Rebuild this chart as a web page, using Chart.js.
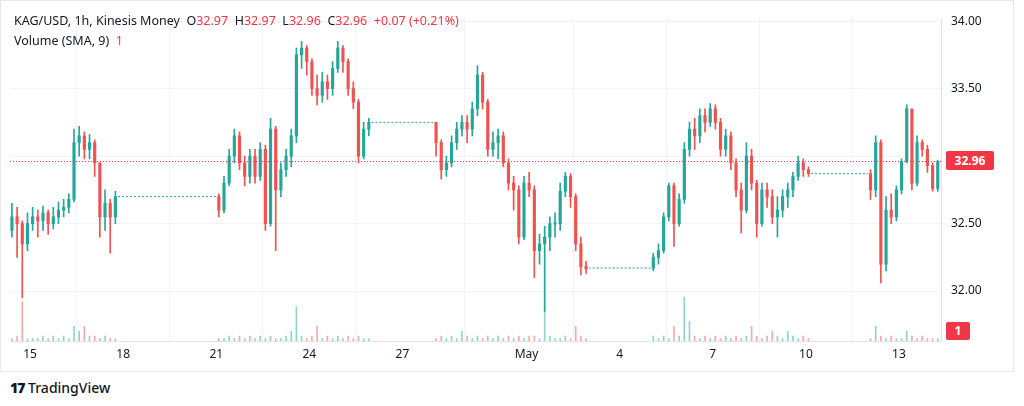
<!DOCTYPE html>
<html><head><meta charset="utf-8">
<script src="https://cdn.jsdelivr.net/npm/chart.js@4.4.1/dist/chart.umd.min.js"></script>
<style>
body{margin:0;background:#fff;font-family:"Noto Sans",Roboto,sans-serif;}
#wrap{position:absolute;left:0;top:0;width:1014px;height:372px;border:1px solid #e6e8ee;box-sizing:border-box}
canvas{position:absolute;left:0;top:0}
.lg{position:absolute;left:14px;font-size:12.5px;color:#131722;white-space:nowrap}
.r{color:#f23645}
.box{position:absolute;background:#f23645;color:#fff;font-size:12px;font-weight:bold;text-align:center;border-radius:2px}
#tv{position:absolute;left:10px;top:378px;font-size:14px;color:#131722;font-weight:500}
</style></head><body>
<div id="wrap"><canvas id="c" width="1012" height="370"></canvas></div>
<div class="lg" style="top:12px">KAG/USD, 1h, Kinesis Money &nbsp;O<span class="r">32.97</span> &nbsp;H<span class="r">32.97</span> &nbsp;L<span class="r">32.96</span> &nbsp;C<span class="r">32.96</span> &nbsp;<span class="r">+0.07 (+0.21%)</span></div>
<div class="lg" style="top:32px">Volume (SMA, 9) &nbsp;<span class="r">1</span></div>
<div class="box" style="left:946px;top:151px;width:48px;height:19px;line-height:19px">32.96</div>
<div class="box" style="left:946px;top:322px;width:24px;height:18px;line-height:18px">1</div>
<div id="tv"><span style="font-weight:900;letter-spacing:-1px">17</span> TradingView</div>
<script>
// segment start hours (hours since Apr 14 00:00), 4h candles
const segStart=[8,168,336,504,672];
const closes=[
[32.55,32.50,32.35,32.50,32.55,32.52,32.58,32.50,32.55,32.60,32.62,32.68,33.10,33.15,33.05,33.10,32.95,32.55,32.65,32.55,32.70],
[32.60,32.80,33.00,33.15,32.95,32.85,33.00,32.85,33.05,32.50,33.20,32.75,32.90,33.00,33.15,33.75,33.80,33.70,33.50,33.45,33.55,33.50,33.65,33.80,33.70,33.50,33.40,33.00,33.20,33.25],
[33.10,32.90,32.95,33.10,33.20,33.25,33.20,33.35,33.60,33.40,33.05,33.10,33.15,32.95,32.80,32.75,32.40,32.80,32.75,32.30,32.35,32.40,32.50,32.50,32.74,32.85,32.70,32.35,32.18,32.17],
[32.25,32.30,32.55,32.78,32.50,32.68,33.05,33.20,33.15,33.30,33.25,33.35,33.25,33.05,33.15,32.95,32.75,32.60,33.00,32.80,32.50,32.75,32.70,32.55,32.60,32.70,32.75,32.85,32.95,32.90,32.87],
[32.75,33.10,32.20,32.60,32.55,32.75,32.96,33.35,32.80,33.10,33.05,32.93,32.76,32.96]];
const highs=[
[32.65,32.62,32.52,32.58,32.62,32.60,32.63,32.60,32.62,32.66,32.68,32.72,33.20,33.22,33.18,33.16,33.12,32.95,32.75,32.68,32.74],
[32.72,32.85,33.05,33.20,33.18,33.00,33.05,33.05,33.10,33.08,33.28,33.22,32.95,33.05,33.20,33.80,33.85,33.82,33.72,33.60,33.62,33.60,33.70,33.85,33.82,33.72,33.55,33.42,33.25,33.28],
[33.25,33.12,33.00,33.15,33.25,33.30,33.30,33.40,33.67,33.62,33.42,33.18,33.20,33.18,32.98,32.85,32.78,32.85,32.88,32.78,32.42,32.48,32.55,32.58,32.80,32.88,32.87,32.72,32.40,32.22],
[32.28,32.35,32.58,32.80,32.80,32.72,33.10,33.25,33.28,33.35,33.35,33.39,33.38,33.28,33.20,33.18,32.98,32.80,33.10,33.05,32.82,32.80,32.80,32.75,32.70,32.75,32.80,32.88,33.00,32.98,32.92],
[32.90,33.15,33.12,32.70,32.72,32.78,32.98,33.38,33.30,33.15,33.12,33.08,32.95,32.97]];
const lows=[
[32.40,32.25,31.95,32.30,32.45,32.40,32.45,32.42,32.46,32.50,32.55,32.58,32.66,33.00,32.98,32.98,32.85,32.40,32.45,32.28,32.50],
[32.55,32.58,32.78,32.95,32.90,32.78,32.80,32.80,32.82,32.45,32.48,32.30,32.70,32.85,32.92,33.10,33.65,33.60,33.45,33.38,33.40,33.42,33.45,33.62,33.62,33.45,33.35,32.95,32.98,33.15],
[33.00,32.83,32.85,32.92,33.05,33.15,33.10,33.15,33.30,33.35,33.00,33.00,32.98,32.92,32.75,32.60,32.35,32.38,32.70,32.10,32.20,31.85,32.30,32.40,32.45,32.70,32.62,32.30,32.12,32.13],
[32.15,32.20,32.28,32.52,32.33,32.48,32.65,33.00,33.05,33.10,33.18,33.22,33.20,33.00,33.00,32.90,32.70,32.43,32.58,32.75,32.40,32.48,32.62,32.50,32.40,32.55,32.62,32.70,32.82,32.85,32.85],
[32.68,32.70,32.06,32.15,32.50,32.52,32.72,32.95,32.75,32.78,33.00,32.88,32.74,32.74]];
const volumes=[
[0.5,1,8,0.5,0.5,0.5,1,0.5,1,0.5,1,0.5,3,2,3,1,1,0.5,1,0.5,0.5],
[0.5,0.5,1,0.5,1,0.5,1,0.5,1,0.5,1,0.5,0.5,1,2,7,1,0.5,1,3,0.5,1,0.5,1,0.5,1,0.5,1,0.5,0.5],
[0.5,1,0.5,1,0.5,2,1,0.5,1,0.5,1,0.5,1,0.5,1,0.5,1,0.5,1,1,0.5,7,1,0.5,0.5,1,0.5,3,1,0.5],
[1,0.5,1,0.5,3,1,9,4,1,0.5,1,0.5,1,0.5,1,0.5,1,0.5,1,3,1,0.5,1,2,1,0.5,2,1,0.5,1,0.5],
[0.5,3,1,0.5,1,0.5,0.5,2,1,0.5,1,0.5,0.5,0.5]];
const firstOpen=32.45;
const gapStart=[92,288,456,628], gapEnd=[168,336,504,672], gapPrice=[32.70,33.25,32.17,32.87];
const lastPrice=32.96;
const tickHours=[24,96,168,240,312,408,480,552,624,696];
const tickLabels=['15','18','21','24','27','May','4','7','10','13'];
const priceTicks=[32.0,32.5,33.0,33.5,34.0];

const UP='#26a69a', DN='#ef5350';
const wick=[],body=[],vol=[],cols=[],vcols=[];
let prev=firstOpen;
segStart.forEach((s,si)=>{
  closes[si].forEach((c,i)=>{
    const x=s+4*i+2, o=prev, up=c>=o;
    let lo=Math.min(o,c),hi=Math.max(o,c); if(hi-lo<0.01){hi+=0.005;lo-=0.005;}
    wick.push({x,y:[lows[si][i],highs[si][i]]});
    body.push({x,y:[lo,hi]});
    vol.push({x,y:volumes[si][i]});
    cols.push(up?UP:DN); vcols.push(up?'rgba(38,166,154,0.5)':'rgba(239,83,80,0.5)');
    prev=c;
  });
});
const gapData=[];
gapStart.forEach((g,i)=>{gapData.push({x:g,y:gapPrice[i]},{x:gapEnd[i],y:gapPrice[i]},{x:gapEnd[i],y:null});});

new Chart(document.getElementById('c'),{
 data:{datasets:[
  {type:'line',data:gapData,borderColor:UP,borderWidth:1,borderDash:[2,2],pointRadius:0,spanGaps:false,yAxisID:'y'},
  {type:'line',data:[{x:8.5,y:lastPrice},{x:728.5,y:lastPrice}],borderColor:'#f23645',borderWidth:1,borderDash:[1,2],pointRadius:0,yAxisID:'y'},
  {type:'bar',data:vol,backgroundColor:vcols,barThickness:1,grouped:false,yAxisID:'v'},
  {type:'bar',data:wick,backgroundColor:cols,barThickness:1,grouped:false,yAxisID:'y'},
  {type:'bar',data:body,backgroundColor:cols,barThickness:2.5,grouped:false,yAxisID:'y'}
 ]},
 options:{responsive:false,animation:false,events:[],
  layout:{padding:{top:7,left:9,right:0,bottom:0}},
  plugins:{legend:{display:false},tooltip:{enabled:false}},
  scales:{
   x:{type:'linear',min:8.5,max:728.5,offset:false,
      afterBuildTicks:a=>{a.ticks=tickHours.map(v=>({value:v}));},
      afterFit:a=>{a.height=30;},
      ticks:{autoSkip:false,maxRotation:0,color:'#131722',padding:6,font:{size:12,family:'Noto Sans'},
        callback:(v)=>{const k=tickHours.indexOf(v);return k>=0?tickLabels[k]:'';}},
      grid:{color:'#f0f3fa',drawTicks:false},border:{color:'#e0e3eb'}},
   y:{position:'right',min:31.63,max:34.022,
      afterBuildTicks:a=>{a.ticks=priceTicks.map(v=>({value:v}));},
      afterFit:a=>{a.width=72;},
      ticks:{color:'#131722',padding:10,font:{size:12,family:'Noto Sans'},callback:v=>v.toFixed(2)},
      grid:{color:'#f0f3fa',drawTicks:false},border:{color:'#e0e3eb'}},
   v:{display:false,min:0,max:66}
  }}
});
</script></body></html>
